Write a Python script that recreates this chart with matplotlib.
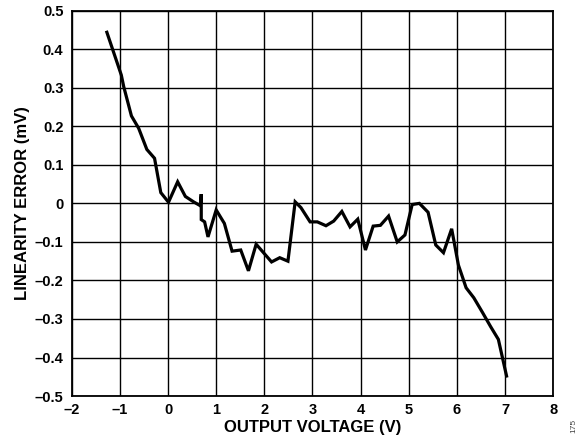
import numpy as np
import matplotlib
matplotlib.use('Agg')
import matplotlib.pyplot as plt

plt.rcParams['font.family'] = ['Liberation Sans', 'DejaVu Sans']
plt.rcParams['font.weight'] = 'bold'

# linearity error vs output voltage
volts = [-1.27, -0.97, -0.92, -0.76, -0.61, -0.44, -0.28, -0.15, 0.01, 0.20,
         0.36, 0.53, 0.67, 0.69, 0.69, 0.76, 0.83, 1.00, 1.17, 1.33,
         1.51, 1.67, 1.83, 2.15, 2.32, 2.49, 2.64, 2.76, 2.95, 3.10,
         3.28, 3.44, 3.61, 3.78, 3.94, 4.10, 4.26, 4.41, 4.58, 4.76,
         4.92, 5.07, 5.22, 5.40, 5.56, 5.72, 5.89, 6.03, 6.19, 6.35,
         6.53, 6.70, 6.86, 7.03]
error_mv = [0.444, 0.333, 0.303, 0.227, 0.195, 0.140, 0.117, 0.028, 0.003, 0.056,
            0.018, 0.004, -0.006, 0.024, -0.042, -0.048, -0.087, -0.017, -0.052, -0.124,
            -0.121, -0.175, -0.106, -0.152, -0.141, -0.150, 0.004, -0.011, -0.048, -0.048,
            -0.058, -0.046, -0.021, -0.061, -0.041, -0.121, -0.059, -0.057, -0.033, -0.100,
            -0.082, -0.003, 0.000, -0.023, -0.108, -0.128, -0.066, -0.160, -0.219, -0.245,
            -0.283, -0.320, -0.353, -0.448]

xticks = np.arange(-2, 9, 1)
xtick_labels = ['–2', '–1', '0', '1', '2', '3', '4', '5', '6', '7', '8']
yticks = np.round(np.arange(-0.5, 0.51, 0.1), 1)
ytick_labels = ['–0.5', '–0.4', '–0.3', '–0.2', '–0.1', '0', '0.1', '0.2', '0.3', '0.4', '0.5']

fig = plt.figure(figsize=(5.83, 4.46), dpi=100)
ax = fig.add_axes([0.123, 0.112, 0.826, 0.864])

ax.plot(volts, error_mv, color='black', lw=2.3, solid_joinstyle='miter')

ax.set_xlim(-2, 8)
ax.set_ylim(-0.5, 0.5)
ax.set_xticks(xticks)
ax.set_xticklabels(xtick_labels)
ax.set_yticks(yticks)
ax.set_yticklabels(ytick_labels)
ax.grid(True, color='black', lw=1.0)
ax.tick_params(length=0, labelsize=10.5)
ax.tick_params(axis='y', pad=6)
ax.tick_params(axis='x', pad=5)
for s in ax.spines.values():
    s.set_linewidth(1.3)

ax.set_xlabel('OUTPUT VOLTAGE (V)', fontsize=12, fontweight='bold', labelpad=2)
ax.set_ylabel('LINEARITY ERROR (mV)', fontsize=12, fontweight='bold', labelpad=3)

fig.text(0.985, 0.045, '175', rotation=90, fontsize=6, color='#444444',
         fontweight='normal', ha='center', va='center')

fig.savefig('out.png', dpi=100)
